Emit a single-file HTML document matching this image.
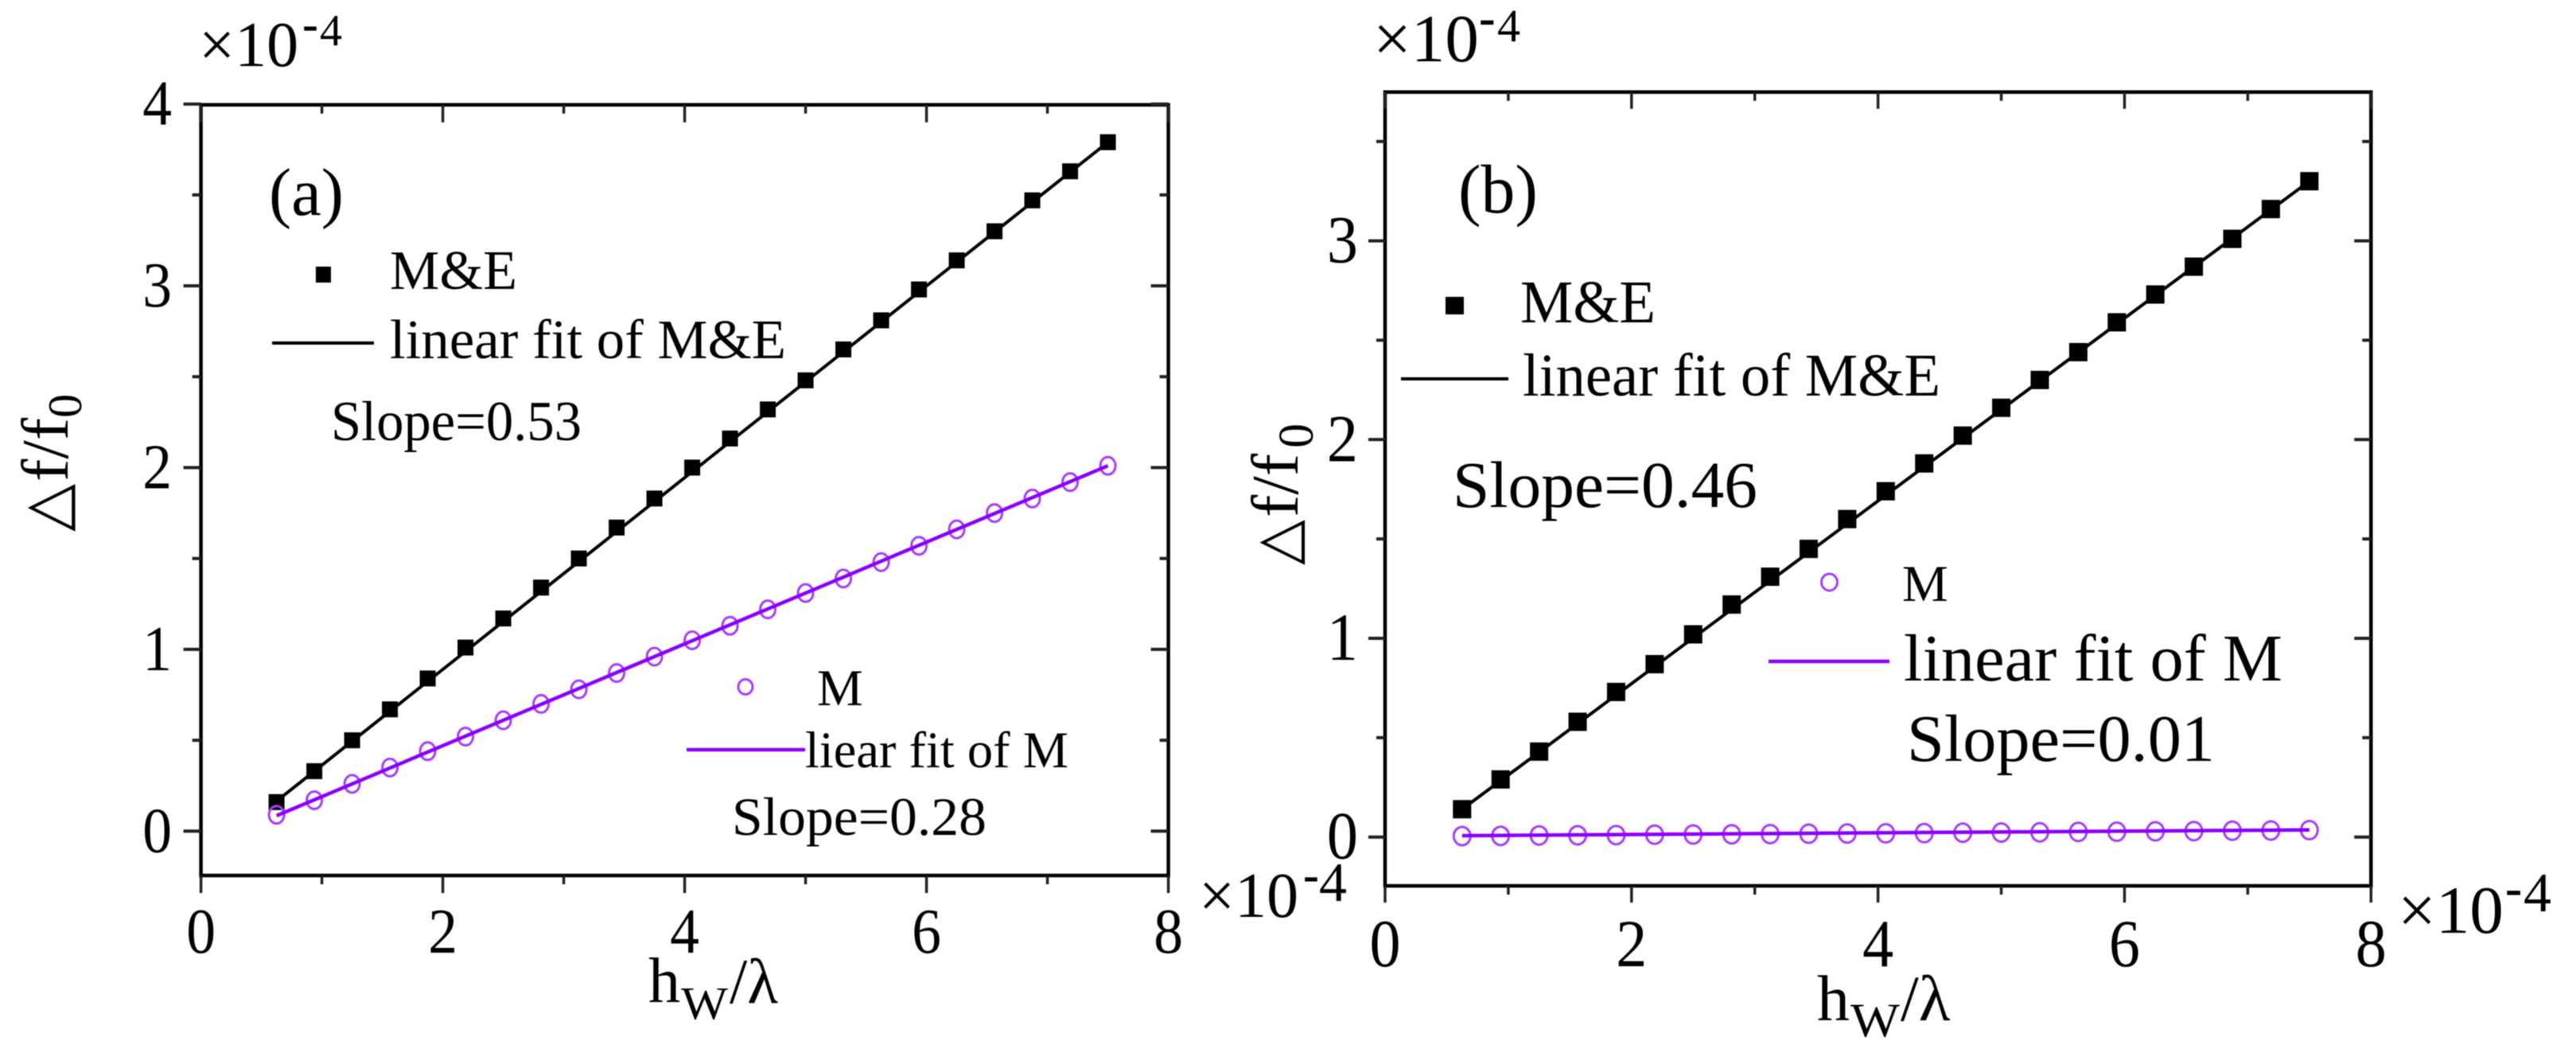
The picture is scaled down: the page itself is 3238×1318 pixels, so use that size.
<!DOCTYPE html>
<html>
<head>
<meta charset="utf-8">
<title>Frequency shift vs normalized thickness</title>
<style>
html,body{margin:0;padding:0;background:#fff;}
svg{display:block;filter:blur(0.6px);}
text{font-family:"Liberation Serif","DejaVu Serif",serif;fill:#000;}
.tri{font-family:"DejaVu Sans","Liberation Sans",sans-serif;}
</style>
</head>
<body>
<svg id="figure" xmlns="http://www.w3.org/2000/svg" width="3238" height="1318" viewBox="0 0 3238 1318">
  <rect width="3238" height="1318" fill="#fff"/>
  <g id="panel-a"></g>
  <g id="panel-b"></g>

  <!-- panel a annotations -->
  <g>
    <text x="250" y="83" font-size="80">×10</text>
    <text x="380" y="50" font-size="60" font-weight="bold">-</text>
    <text x="402" y="57" font-size="56">4</text>
  </g>
  <g>
    <text x="1507" y="1152" font-size="80">×10</text>
    <text x="1638" y="1119" font-size="60" font-weight="bold">-</text>
    <text x="1658" y="1132" font-size="70">4</text>
  </g>
  <text x="338" y="270" font-size="85" textLength="94" lengthAdjust="spacingAndGlyphs">(a)</text>
  <text x="490" y="363" font-size="70" textLength="160" lengthAdjust="spacingAndGlyphs">M&amp;E</text>
  <text x="490" y="450" font-size="70" textLength="498" lengthAdjust="spacingAndGlyphs">linear fit of M&amp;E</text>
  <text x="416" y="553" font-size="71" textLength="315" lengthAdjust="spacingAndGlyphs">Slope=0.53</text>
  <text x="1027" y="886" font-size="65">M</text>
  <text x="1012" y="964" font-size="65" textLength="331" lengthAdjust="spacingAndGlyphs">liear fit of M</text>
  <text x="920" y="1049" font-size="68" textLength="320" lengthAdjust="spacingAndGlyphs">Slope=0.28</text>
  <g transform="translate(85,663) rotate(-90)">
    <text class="tri" x="-5" y="0" font-size="78">△</text>
    <text x="58" y="0" font-size="84" textLength="80" lengthAdjust="spacingAndGlyphs">f/f</text>
    <text x="138" y="17" font-size="60">0</text>
  </g>
  <g>
    <text x="815" y="1259" font-size="80">h</text>
    <text x="856" y="1280" font-size="58" textLength="59" lengthAdjust="spacingAndGlyphs">W</text>
    <text x="917" y="1260" font-size="80">/λ</text>
  </g>

  <!-- panel b annotations -->
  <g>
    <text x="1726" y="77" font-size="85">×10</text>
    <text x="1859" y="43" font-size="62" font-weight="bold">-</text>
    <text x="1882" y="52" font-size="58">4</text>
  </g>
  <g>
    <text x="3014" y="1172" font-size="85">×10</text>
    <text x="3149" y="1137" font-size="64" font-weight="bold">-</text>
    <text x="3172" y="1145" font-size="70">4</text>
  </g>
  <text x="1833" y="267" font-size="87" textLength="100" lengthAdjust="spacingAndGlyphs">(b)</text>
  <text x="1911" y="405" font-size="76" textLength="170" lengthAdjust="spacingAndGlyphs">M&amp;E</text>
  <text x="1914" y="497" font-size="76" textLength="525" lengthAdjust="spacingAndGlyphs">linear fit of M&amp;E</text>
  <text x="1826" y="637" font-size="83" textLength="383" lengthAdjust="spacingAndGlyphs">Slope=0.46</text>
  <text x="2391" y="755" font-size="65">M</text>
  <text x="2393" y="855" font-size="84" textLength="476" lengthAdjust="spacingAndGlyphs">linear fit of M</text>
  <text x="2397" y="956" font-size="84" textLength="387" lengthAdjust="spacingAndGlyphs">Slope=0.01</text>
  <g transform="translate(1631,705) rotate(-90)">
    <text class="tri" x="-5" y="0" font-size="74">△</text>
    <text x="55" y="0" font-size="84" textLength="80" lengthAdjust="spacingAndGlyphs">f/f</text>
    <text x="142" y="19" font-size="62">0</text>
  </g>
  <g>
    <text x="2284" y="1282" font-size="82">h</text>
    <text x="2326" y="1302" font-size="60" textLength="62" lengthAdjust="spacingAndGlyphs">W</text>
    <text x="2389" y="1282" font-size="82">/λ</text>
  </g>

  <!-- legend glyphs -->
  <rect x="397" y="335" width="19" height="20" fill="#000"/>
  <line x1="342" y1="431" x2="470" y2="431" stroke="#000" stroke-width="4"/>
  <ellipse cx="937" cy="863" rx="9" ry="9.5" fill="none" stroke="#a83cff" stroke-width="3"/>
  <line x1="863" y1="942" x2="1012" y2="942" stroke="#8b00ff" stroke-width="4.5"/>
  <rect x="1817" y="373" width="23" height="22" fill="#000"/>
  <line x1="1761" y1="476" x2="1896" y2="476" stroke="#000" stroke-width="4"/>
  <ellipse cx="2299.5" cy="731.5" rx="10" ry="10.5" fill="none" stroke="#a83cff" stroke-width="3"/>
  <line x1="2223" y1="831" x2="2375" y2="831" stroke="#8b00ff" stroke-width="4.5"/>
</svg>
<script>
const hwValues = [0.625,0.9375,1.25,1.5625,1.875,2.1875,2.5,2.8125,3.125,3.4375,3.75,4.0625,4.375,4.6875,5,5.3125,5.625,5.9375,6.25,6.5625,6.875,7.1875,7.5];
const panelAMandE = [0.16,0.33,0.50,0.67,0.84,1.01,1.17,1.34,1.50,1.67,1.83,2.00,2.16,2.32,2.48,2.65,2.81,2.98,3.14,3.30,3.47,3.63,3.79];
const panelAM = [0.09,0.17,0.26,0.35,0.44,0.52,0.61,0.70,0.78,0.87,0.96,1.05,1.13,1.22,1.31,1.39,1.48,1.57,1.66,1.75,1.83,1.92,2.01];
const panelBMandE = [0.14,0.29,0.43,0.58,0.73,0.87,1.02,1.17,1.31,1.45,1.60,1.74,1.88,2.02,2.16,2.30,2.44,2.59,2.73,2.87,3.01,3.16,3.30];
const panelBM = [0.005,0.006,0.008,0.009,0.010,0.012,0.013,0.014,0.015,0.017,0.018,0.019,0.020,0.022,0.023,0.024,0.026,0.027,0.029,0.030,0.032,0.033,0.035];
const fitHw = [0.625,7.5];
const panelAFitMandE = [0.165,3.79];
const panelAFitM = [0.085,2.01];
const panelBFitMandE = [0.14,3.30];
const panelBFitM = [0.007,0.036];
const xTickLabels = [0,2,4,6,8];
const xMinorTicks = [1,3,5,7];
const panelAYTickLabels = [0,1,2,3,4];
const panelAYMinorTicks = [0.5,1.5,2.5,3.5];
const panelBYTickLabels = [0,1,2,3];
const panelBYMinorTicks = [0.5,1.5,2.5,3.5];

const SVG_NS = 'http://www.w3.org/2000/svg';
function add(parent, tag, attrs) {
  const el = document.createElementNS(SVG_NS, tag);
  for (const k in attrs) el.setAttribute(k, attrs[k]);
  parent.appendChild(el);
  return el;
}

function drawPanel(cfg) {
  const g = document.getElementById(cfg.id);
  const sx = v => cfg.x0 + (v / 8) * (cfg.x8 - cfg.x0);
  const sy = v => cfg.y0 - v * cfg.yUnit;
  const digitWidth = cfg.labelSize * 0.46;

  const frame = add(g, 'rect', {x: cfg.x0, y: cfg.top, width: cfg.x8 - cfg.x0, height: cfg.bottom - cfg.top, fill: 'none', stroke: '#000', 'stroke-width': cfg.axisW});
  
  

  cfg.xMajor.forEach(v => {
    const lo = add(g, 'line', {x1: sx(v), x2: sx(v), y1: cfg.bottom, y2: cfg.bottom + cfg.major, stroke: '#222', 'stroke-width': 3.5});
    
    
    const hi = add(g, 'line', {x1: sx(v), x2: sx(v), y1: cfg.top, y2: cfg.top + cfg.major, stroke: '#222', 'stroke-width': 3.5});
    
    
    const label = add(g, 'text', {x: sx(v), y: cfg.xLabelY, 'font-size': cfg.labelSize, 'text-anchor': 'middle', textLength: digitWidth, lengthAdjust: 'spacingAndGlyphs'});
    label.textContent = v;
    
    
  });
  cfg.xMinor.forEach(v => {
    const lo = add(g, 'line', {x1: sx(v), x2: sx(v), y1: cfg.bottom, y2: cfg.bottom + cfg.minor, stroke: '#222', 'stroke-width': 3.5});
    
    
    const hi = add(g, 'line', {x1: sx(v), x2: sx(v), y1: cfg.top, y2: cfg.top + cfg.minor, stroke: '#222', 'stroke-width': 3.5});
    
    
  });
  cfg.yMajor.forEach(v => {
    const lo = add(g, 'line', {x1: cfg.x0, x2: cfg.x0 - cfg.major, y1: sy(v), y2: sy(v), stroke: '#222', 'stroke-width': 4});
    
    
    const hi = add(g, 'line', {x1: cfg.x8, x2: cfg.x8 - cfg.major, y1: sy(v), y2: sy(v), stroke: '#222', 'stroke-width': 4});
    
    
    const label = add(g, 'text', {x: cfg.yLabelX, y: sy(v) + cfg.yLabelDy, 'font-size': cfg.labelSize, 'text-anchor': 'end', textLength: digitWidth, lengthAdjust: 'spacingAndGlyphs'});
    label.textContent = v;
    
    
  });
  cfg.yMinor.forEach(v => {
    const lo = add(g, 'line', {x1: cfg.x0, x2: cfg.x0 - cfg.minor, y1: sy(v), y2: sy(v), stroke: '#222', 'stroke-width': 4});
    
    
    const hi = add(g, 'line', {x1: cfg.x8, x2: cfg.x8 - cfg.minor, y1: sy(v), y2: sy(v), stroke: '#222', 'stroke-width': 4});
    
    
  });

  const fitA = add(g, 'line', {x1: sx(fitHw[0]), y1: sy(cfg.fitME[0]), x2: sx(fitHw[1]), y2: sy(cfg.fitME[1]), stroke: '#000', 'stroke-width': 4});
  
  

  hwValues.forEach((h, i) => {
    const sq = add(g, 'rect', {x: sx(h) - cfg.sq / 2, y: sy(cfg.me[i]) - cfg.sq / 2, width: cfg.sq, height: cfg.sq, fill: '#000'});
    
    
  });
  hwValues.forEach((h, i) => {
    const c = add(g, 'ellipse', {cx: sx(h), cy: sy(cfg.m[i]), rx: cfg.rx, ry: cfg.ry, fill: 'none', stroke: '#a83cff', 'stroke-width': 3});
    
    
  });

  const fitB = add(g, 'line', {x1: sx(fitHw[0]), y1: sy(cfg.fitM[0]), x2: sx(fitHw[1]), y2: sy(cfg.fitM[1]), stroke: '#8b00ff', 'stroke-width': 4.5});
  
  
}

drawPanel({
  id: 'panel-a', x0: 252.6, x8: 1468.6, y0: 1044.3, yUnit: 228.4, top: 131.7, bottom: 1100,
  axisW: 4.5, major: 22, minor: 11, labelSize: 80, xLabelY: 1197, yLabelX: 216, yLabelDy: 26,
  sq: 20, rx: 9.5, ry: 11,
  xMajor: xTickLabels, xMinor: xMinorTicks, yMajor: panelAYTickLabels, yMinor: panelAYMinorTicks,
  me: panelAMandE, m: panelAM, fitME: panelAFitMandE, fitM: panelAFitM
});
drawPanel({
  id: 'panel-b', x0: 1741, x8: 2980.3, y0: 1051.7, yUnit: 249.7, top: 115.7, bottom: 1113,
  axisW: 4.5, major: 21, minor: 11, labelSize: 85, xLabelY: 1214, yLabelX: 1707, yLabelDy: 27,
  sq: 23, rx: 10.5, ry: 11.5,
  xMajor: xTickLabels, xMinor: xMinorTicks, yMajor: panelBYTickLabels, yMinor: panelBYMinorTicks,
  me: panelBMandE, m: panelBM, fitME: panelBFitMandE, fitM: panelBFitM
});
</script>
</body>
</html>
